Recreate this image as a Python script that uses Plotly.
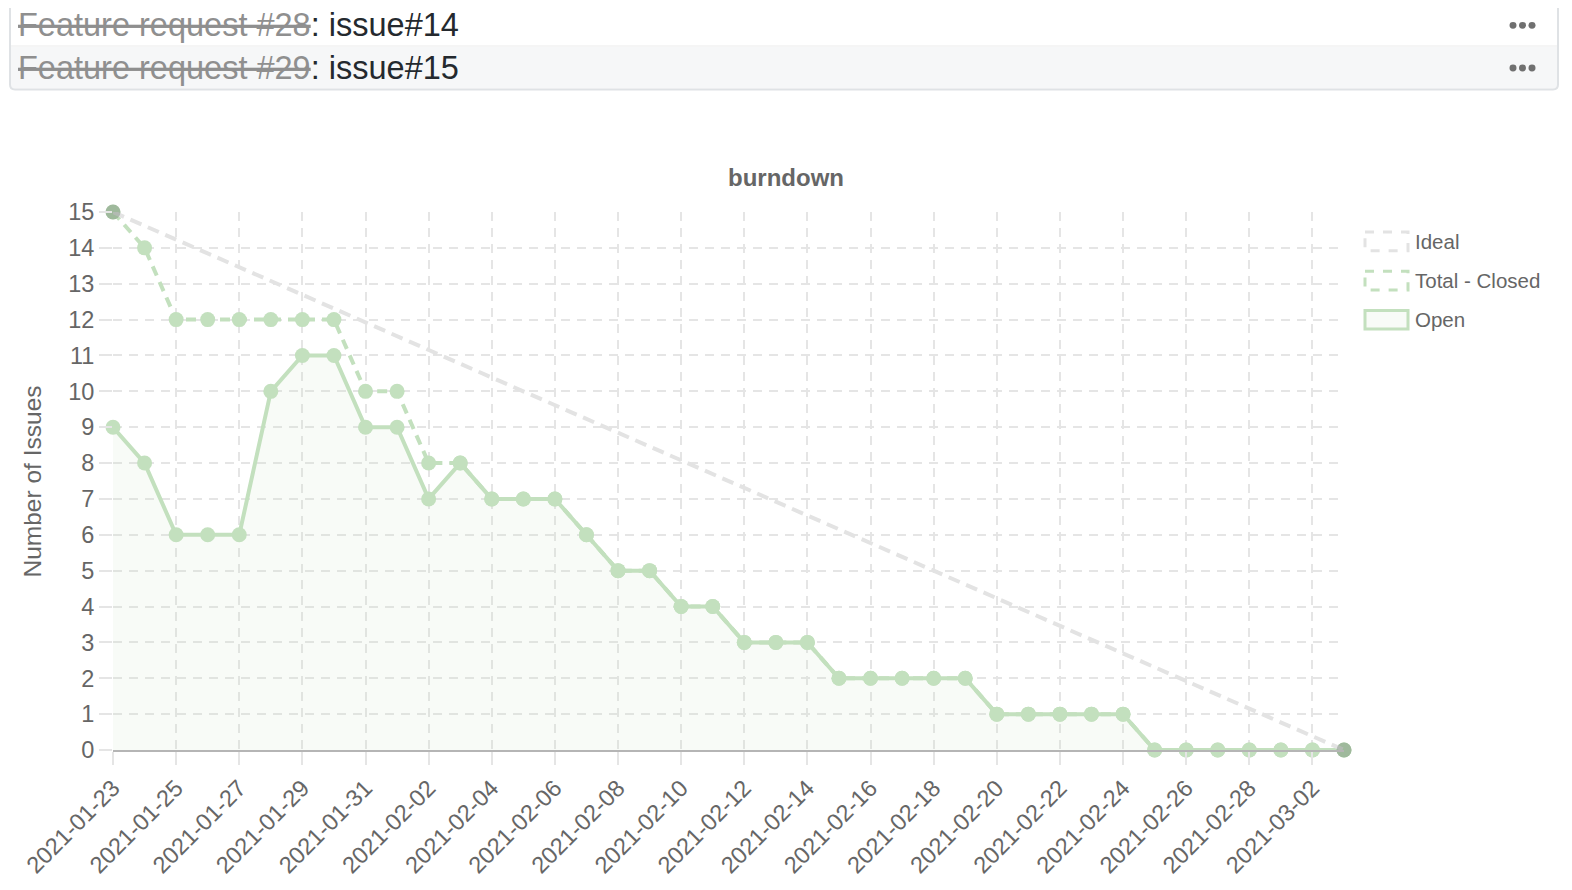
import plotly.graph_objects as go
import pandas as pd

# ---------------- data ----------------
dates = pd.date_range("2021-01-23", "2021-03-03", freq="D").strftime("%Y-%m-%d").tolist()
open_issues = [9, 8, 6, 6, 6, 10, 11, 11, 9, 9,
               7, 8, 7, 7, 7, 6, 5, 5, 4, 4,
               3, 3, 3, 2, 2, 2, 2, 2, 1, 1,
               1, 1, 1, 0, 0, 0, 0, 0, 0, 0]
total_closed = [15, 14, 12, 12, 12, 12, 12, 12, 10, 10,
                8, 8, 7, 7, 7, 6, 5, 5, 4, 4,
                3, 3, 3, 2, 2, 2, 2, 2, 1, 1,
                1, 1, 1, 0, 0, 0, 0, 0, 0, 0]
ideal_dates = ["2021-01-23", "2021-03-03"]
ideal_values = [15, 0]
legend_labels = ["Ideal", "Total - Closed", "Open"]
header_items = [("Feature request #28", "issue#14"), ("Feature request #29", "issue#15")]
chart_title = "burndown"
y_title = "Number of Issues"

# ---------------- style ----------------
W, H = 1572, 890
OFF = 8  # default page body margin
L, R, T, B = 113, 1344, 212, 761
FONT = "Liberation Sans, Arial, Helvetica, sans-serif"
GREEN = "rgb(195,224,190)"
GRID = "#e5e5e5"
TXT = "#666666"


def px(x):
    return (x - L) / (R - L)


def py(y):
    return (B - y) / (B - T)


fig = go.Figure()
fig.add_trace(go.Scatter(
    x=dates, y=open_issues, mode="lines+markers", name=legend_labels[2],
    line=dict(color=GREEN, width=4), marker=dict(size=15, color=GREEN),
    fill="tozeroy", fillcolor="rgba(200,225,195,0.13)", cliponaxis=False))
fig.add_trace(go.Scatter(
    x=dates, y=total_closed, mode="lines+markers", name=legend_labels[1],
    line=dict(color=GREEN, width=4, dash="10px,7px"), marker=dict(size=15, color=GREEN),
    cliponaxis=False))
fig.add_trace(go.Scatter(
    x=ideal_dates, y=ideal_values, mode="lines+markers", name=legend_labels[0],
    line=dict(color="#e3e3e3", width=4, dash="12px,7px"),
    marker=dict(size=15, color="rgba(100,120,100,0.38)"), cliponaxis=False))

shapes = []
annotations = []

# header list box
shapes.append(dict(type="rect", xref="paper", yref="paper",
                   x0=px(11), x1=px(1557), y0=py(43), y1=py(86),
                   fillcolor="#f6f7f8", line=dict(width=0), layer="below"))
shapes.append(dict(type="path", xref="paper", yref="paper",
                   path=(f"M {px(10)},{py(-5)} L {px(10)},{py(82)} "
                         f"Q {px(10)},{py(87)} {px(15)},{py(87)} "
                         f"L {px(1553)},{py(87)} Q {px(1558)},{py(87)} {px(1558)},{py(82)} "
                         f"L {px(1558)},{py(-5)}"),
                   line=dict(color="#dfe2e5", width=2)))
shapes.append(dict(type="line", xref="paper", yref="paper",
                   x0=px(11), x1=px(1557), y0=py(42.5), y1=py(42.5),
                   line=dict(color="#eeeeee", width=1)))
for i, (strike, item) in enumerate(header_items):
    yc = 21.5 + 43.5 * i
    annotations.append(dict(
        xref="paper", yref="paper", x=px(17), y=py(yc), xanchor="left", yanchor="middle",
        text=f'<span style="color:#8f8f8f"><s>{strike}</s></span>: {item}',
        showarrow=False, borderpad=0,
        font=dict(family=FONT, size=32.5, color="#24292e")))
    for dx in (1513, 1522.5, 1532):
        shapes.append(dict(type="circle", xref="paper", yref="paper",
                           x0=px(dx - 3.5), x1=px(dx + 3.5), y0=py(yc - 3.5), y1=py(yc + 3.5),
                           fillcolor="#707070", line=dict(width=0)))

# title and axis title
annotations.append(dict(xref="paper", yref="paper", x=px(786), y=py(177),
                        xanchor="center", yanchor="middle", showarrow=False,
                        text=f"<b>{chart_title}</b>",
                        font=dict(family=FONT, size=24, color=TXT)))
annotations.append(dict(xref="paper", yref="paper", x=px(32), y=py(487),
                        xanchor="center", yanchor="middle", showarrow=False,
                        textangle=-90, text=y_title,
                        font=dict(family=FONT, size=24.5, color=TXT)))

# legend (box style)
leg_styles = [
    dict(color="#e3e3e3", dash="dash", fill="rgba(255,255,255,0)"),
    dict(color=GREEN, dash="dash", fill="rgba(255,255,255,0)"),
    dict(color=GREEN, dash="solid", fill="rgba(200,225,195,0.13)"),
]
for i, (lab, st) in enumerate(zip(legend_labels, leg_styles)):
    yc = 242 + 40 * i
    shapes.append(dict(type="rect", xref="paper", yref="paper",
                       x0=px(1365), x1=px(1408), y0=py(yc - 9.5), y1=py(yc + 9.5),
                       fillcolor=st["fill"], line=dict(color=st["color"], width=3, dash=st["dash"])))
    annotations.append(dict(xref="paper", yref="paper", x=px(1413), y=py(yc),
                            xanchor="left", yanchor="middle", showarrow=False, text=lab,
                            font=dict(family=FONT, size=20.5, color=TXT)))

fig.update_layout(
    width=W - OFF, height=H - OFF,
    margin=dict(l=L - OFF, r=W - R, t=T - OFF, b=H - B, pad=0),
    paper_bgcolor="white", plot_bgcolor="white",
    showlegend=False,
    shapes=shapes, annotations=annotations,
    xaxis=dict(type="date", range=[dates[0], dates[-1]], tick0=dates[0], dtick=2 * 86400000,
               tickformat="%Y-%m-%d", tickangle=-45,
               showgrid=True, gridcolor=GRID, gridwidth=2, griddash="9px,7px",
               ticks="outside", ticklen=13, tickwidth=2, tickcolor=GRID,
               showline=True, linecolor="#b5b5b5", linewidth=2, zeroline=False,
               tickfont=dict(family=FONT, size=23.5, color=TXT)),
    yaxis=dict(range=[0, 15], dtick=1, tick0=0,
               showgrid=True, gridcolor=GRID, gridwidth=2, griddash="9px,7px",
               ticks="outside", ticklen=13, tickwidth=2, tickcolor=GRID,
               showline=False, zeroline=False,
               tickfont=dict(family=FONT, size=23.5, color=TXT)),
)

fig.write_html("out.html")
